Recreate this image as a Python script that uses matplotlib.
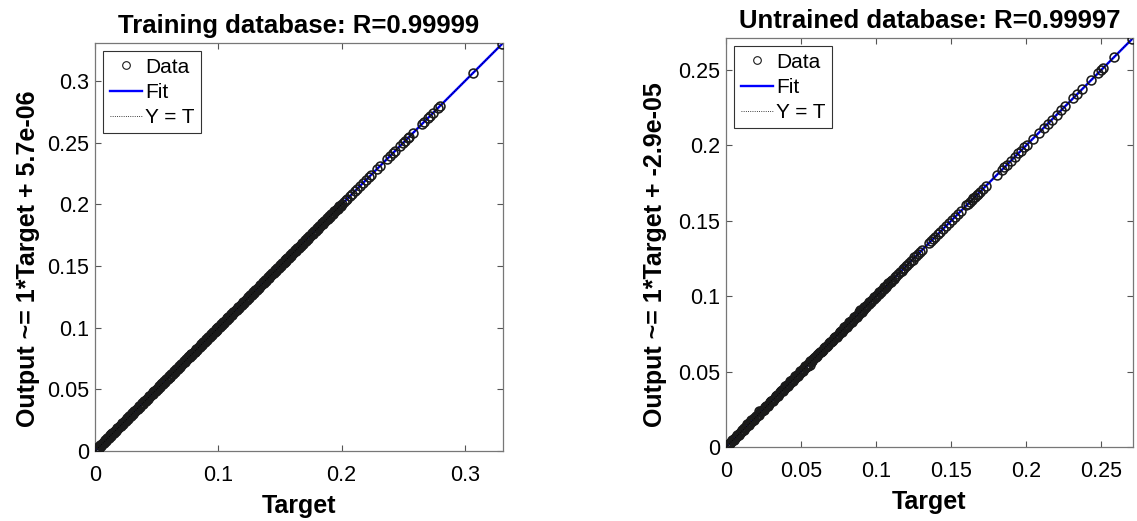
import matplotlib
matplotlib.use("Agg")
import matplotlib.pyplot as plt
from matplotlib.ticker import FormatStrFormatter
from matplotlib.lines import Line2D

plt.rcParams['font.family'] = ['Liberation Sans', 'DejaVu Sans']

# training set: network target vs output
train_target = [
    0.0002, 0.0009, 0.0017, 0.0029, 0.0036, 0.0047, 0.0055, 0.0068, 0.0074, 0.0088,
    0.0096, 0.0104, 0.0117, 0.0125, 0.0133, 0.0146, 0.0152, 0.0165, 0.0177, 0.0186,
    0.0194, 0.0203, 0.0215, 0.0222, 0.0236, 0.0243, 0.0254, 0.0261, 0.0273, 0.0285,
    0.0291, 0.0306, 0.0312, 0.0324, 0.0333, 0.0341, 0.0355, 0.0362, 0.0378, 0.0384,
    0.0393, 0.0407, 0.0414, 0.0422, 0.0438, 0.0445, 0.0453, 0.0466, 0.0474, 0.0489,
    0.0495, 0.0502, 0.0518, 0.0527, 0.0531, 0.0547, 0.0556, 0.0563, 0.0575, 0.0588,
    0.0594, 0.0605, 0.0611, 0.0626, 0.0637, 0.0642, 0.0654, 0.0668, 0.0673, 0.0685,
    0.0697, 0.0703, 0.0716, 0.0724, 0.0735, 0.0743, 0.0758, 0.0764, 0.0777, 0.0782,
    0.0796, 0.0807, 0.0813, 0.0825, 0.0836, 0.0847, 0.0852, 0.0866, 0.0875, 0.0883,
    0.0898, 0.0904, 0.0914, 0.0927, 0.0935, 0.0942, 0.0957, 0.0963, 0.0978, 0.0986,
    0.0993, 0.1005, 0.1016, 0.1023, 0.1037, 0.1045, 0.1051, 0.1068, 0.1074, 0.1082,
    0.1097, 0.1106, 0.1113, 0.1128, 0.1134, 0.1146, 0.1155, 0.1162, 0.1177, 0.1188,
    0.1194, 0.1203, 0.1217, 0.1225, 0.1232, 0.1248, 0.1253, 0.1266, 0.1274, 0.1287,
    0.1295, 0.1308, 0.1314, 0.1323, 0.1339, 0.1344, 0.1357, 0.1365, 0.1372, 0.1386,
    0.1398, 0.1404, 0.1415, 0.1427, 0.1436, 0.1443, 0.1458, 0.1467, 0.1473, 0.1484,
    0.1496, 0.1507, 0.1512, 0.1526, 0.1538, 0.1545, 0.1553, 0.1567, 0.1575, 0.1588,
    0.1593, 0.1605, 0.1618, 0.1624, 0.1633, 0.1647, 0.1656, 0.1664, 0.1676, 0.1685,
    0.1697, 0.1708, 0.1714, 0.1727, 0.1735, 0.1742, 0.1758, 0.1766, 0.1773, 0.1787,
    0.1794, 0.1806, 0.1817, 0.1823, 0.1838, 0.1845, 0.1854, 0.1862, 0.1877, 0.1883,
    0.1898, 0.1905, 0.1913, 0.1926, 0.1934, 0.1947, 0.1955, 0.1968, 0.1976, 0.1989,
    0.2003, 0.2017, 0.2036, 0.2048, 0.2069, 0.2085, 0.2112, 0.2124, 0.2150, 0.2173,
    0.2198, 0.2226, 0.2241, 0.2288, 0.2312, 0.2365, 0.2394, 0.2418, 0.2433, 0.2471,
    0.2497, 0.2512, 0.2536, 0.2544, 0.2581, 0.2654, 0.2667, 0.2702, 0.2718, 0.2745,
    0.2782, 0.2797, 0.3068, 0.3305,
]
train_output = [
    0.0002, 0.0010, 0.0017, 0.0028, 0.0036, 0.0048, 0.0055, 0.0067, 0.0074, 0.0088,
    0.0097, 0.0104, 0.0116, 0.0125, 0.0134, 0.0146, 0.0152, 0.0166, 0.0177, 0.0185,
    0.0194, 0.0204, 0.0215, 0.0222, 0.0235, 0.0243, 0.0255, 0.0261, 0.0273, 0.0284,
    0.0291, 0.0306, 0.0313, 0.0324, 0.0333, 0.0340, 0.0355, 0.0363, 0.0378, 0.0384,
    0.0393, 0.0406, 0.0414, 0.0423, 0.0438, 0.0445, 0.0452, 0.0466, 0.0475, 0.0489,
    0.0495, 0.0503, 0.0518, 0.0526, 0.0531, 0.0548, 0.0556, 0.0563, 0.0576, 0.0588,
    0.0594, 0.0604, 0.0611, 0.0626, 0.0638, 0.0642, 0.0654, 0.0667, 0.0673, 0.0685,
    0.0697, 0.0704, 0.0716, 0.0723, 0.0735, 0.0743, 0.0759, 0.0764, 0.0777, 0.0783,
    0.0796, 0.0806, 0.0813, 0.0825, 0.0837, 0.0847, 0.0852, 0.0865, 0.0875, 0.0884,
    0.0898, 0.0904, 0.0913, 0.0927, 0.0935, 0.0943, 0.0957, 0.0963, 0.0977, 0.0986,
    0.0994, 0.1005, 0.1016, 0.1024, 0.1037, 0.1044, 0.1051, 0.1068, 0.1075, 0.1082,
    0.1097, 0.1105, 0.1113, 0.1128, 0.1135, 0.1146, 0.1155, 0.1161, 0.1177, 0.1188,
    0.1195, 0.1203, 0.1216, 0.1225, 0.1232, 0.1249, 0.1253, 0.1266, 0.1273, 0.1287,
    0.1295, 0.1308, 0.1315, 0.1323, 0.1338, 0.1344, 0.1357, 0.1366, 0.1372, 0.1386,
    0.1397, 0.1404, 0.1415, 0.1428, 0.1436, 0.1443, 0.1457, 0.1467, 0.1474, 0.1484,
    0.1496, 0.1508, 0.1512, 0.1526, 0.1537, 0.1545, 0.1554, 0.1567, 0.1575, 0.1587,
    0.1593, 0.1606, 0.1618, 0.1623, 0.1633, 0.1647, 0.1657, 0.1664, 0.1676, 0.1685,
    0.1696, 0.1708, 0.1715, 0.1727, 0.1735, 0.1741, 0.1758, 0.1767, 0.1773, 0.1787,
    0.1795, 0.1806, 0.1816, 0.1823, 0.1838, 0.1846, 0.1854, 0.1862, 0.1876, 0.1883,
    0.1898, 0.1906, 0.1913, 0.1926, 0.1933, 0.1947, 0.1955, 0.1969, 0.1976, 0.1989,
    0.2004, 0.2017, 0.2035, 0.2048, 0.2070, 0.2085, 0.2111, 0.2124, 0.2151, 0.2173,
    0.2197, 0.2226, 0.2242, 0.2288, 0.2311, 0.2366, 0.2394, 0.2417, 0.2433, 0.2472,
    0.2497, 0.2511, 0.2537, 0.2544, 0.2580, 0.2655, 0.2667, 0.2701, 0.2718, 0.2746,
    0.2782, 0.2796, 0.3069, 0.3305,
]
# second batch of training samples (low range, slightly scattered)
train_target_b = [
    0.0005, 0.0013, 0.0023, 0.0032, 0.0042, 0.0051, 0.0061, 0.0071, 0.0081, 0.0092,
    0.0100, 0.0110, 0.0121, 0.0129, 0.0139, 0.0150, 0.0158, 0.0169, 0.0181, 0.0190,
    0.0199, 0.0208, 0.0219, 0.0228, 0.0240, 0.0249, 0.0258, 0.0267, 0.0279, 0.0289,
    0.0298, 0.0309, 0.0318, 0.0328, 0.0337, 0.0348, 0.0359, 0.0367, 0.0381, 0.0389,
    0.0398, 0.0410, 0.0418, 0.0427, 0.0441, 0.0449, 0.0459, 0.0470, 0.0479, 0.0492,
    0.0499, 0.0510, 0.0521, 0.0529, 0.0539, 0.0551, 0.0560, 0.0569, 0.0579, 0.0591,
    0.0600, 0.0608, 0.0618, 0.0631, 0.0640, 0.0648, 0.0659, 0.0671, 0.0679, 0.0690,
    0.0700, 0.0709, 0.0720, 0.0729, 0.0739, 0.0750, 0.0761, 0.0770, 0.0780, 0.0789,
    0.0800, 0.0810, 0.0819, 0.0829, 0.0840, 0.0850, 0.0859, 0.0869, 0.0879, 0.0890,
    0.0901, 0.0909, 0.0920, 0.0930, 0.0939, 0.0949, 0.0960, 0.0970, 0.0981, 0.0990,
    0.0998, 0.1010, 0.1020, 0.1030, 0.1041, 0.1048, 0.1059, 0.1071, 0.1078, 0.1089,
    0.1101, 0.1110, 0.1120, 0.1131, 0.1140, 0.1150, 0.1159, 0.1169, 0.1181, 0.1191,
    0.1199, 0.1210, 0.1221, 0.1229, 0.1239, 0.1251, 0.1259, 0.1270, 0.1280, 0.1290,
    0.1300, 0.1311, 0.1319, 0.1330, 0.1341, 0.1350, 0.1361, 0.1369, 0.1379, 0.1390,
    0.1401, 0.1409, 0.1420, 0.1431, 0.1439, 0.1449, 0.1461, 0.1470, 0.1479, 0.1490,
    0.1500, 0.1510, 0.1519, 0.1530, 0.1541, 0.1550, 0.1559, 0.1570, 0.1579, 0.1591,
    0.1599, 0.1610, 0.1621, 0.1629, 0.1639, 0.1651, 0.1660, 0.1669, 0.1680, 0.1690,
    0.1701, 0.1711, 0.1719, 0.1730, 0.1739, 0.1748, 0.1761, 0.1770, 0.1779, 0.1790,
    0.1799, 0.1810, 0.1820, 0.1829, 0.1841, 0.1849, 0.1858, 0.1869, 0.1880, 0.1889,
    0.1901, 0.1909, 0.1918, 0.1930, 0.1939, 0.1950, 0.1960, 0.1971, 0.1980, 0.1993,
]
train_output_b = [
    0.0011, 0.0007, 0.0030, 0.0025, 0.0049, 0.0044, 0.0068, 0.0064, 0.0088, 0.0085,
    0.0107, 0.0103, 0.0128, 0.0122, 0.0146, 0.0143, 0.0165, 0.0162, 0.0188, 0.0183,
    0.0206, 0.0201, 0.0226, 0.0221, 0.0247, 0.0242, 0.0265, 0.0260, 0.0286, 0.0282,
    0.0305, 0.0302, 0.0325, 0.0321, 0.0344, 0.0341, 0.0366, 0.0360, 0.0388, 0.0382,
    0.0405, 0.0403, 0.0425, 0.0420, 0.0448, 0.0442, 0.0466, 0.0463, 0.0486, 0.0485,
    0.0506, 0.0503, 0.0528, 0.0522, 0.0546, 0.0544, 0.0567, 0.0562, 0.0586, 0.0584,
    0.0607, 0.0601, 0.0625, 0.0624, 0.0647, 0.0641, 0.0666, 0.0664, 0.0686, 0.0683,
    0.0707, 0.0702, 0.0727, 0.0722, 0.0746, 0.0743, 0.0768, 0.0763, 0.0787, 0.0782,
    0.0807, 0.0803, 0.0826, 0.0822, 0.0847, 0.0843, 0.0866, 0.0862, 0.0886, 0.0883,
    0.0908, 0.0902, 0.0927, 0.0923, 0.0946, 0.0942, 0.0967, 0.0963, 0.0988, 0.0983,
    0.1005, 0.1003, 0.1027, 0.1023, 0.1048, 0.1041, 0.1066, 0.1064, 0.1085, 0.1082,
    0.1108, 0.1103, 0.1127, 0.1124, 0.1147, 0.1143, 0.1166, 0.1162, 0.1188, 0.1184,
    0.1206, 0.1203, 0.1228, 0.1222, 0.1246, 0.1244, 0.1266, 0.1263, 0.1287, 0.1283,
    0.1307, 0.1304, 0.1326, 0.1323, 0.1348, 0.1343, 0.1368, 0.1362, 0.1386, 0.1383,
    0.1408, 0.1402, 0.1427, 0.1424, 0.1446, 0.1442, 0.1468, 0.1463, 0.1486, 0.1483,
    0.1507, 0.1503, 0.1526, 0.1523, 0.1548, 0.1543, 0.1566, 0.1563, 0.1586, 0.1584,
    0.1606, 0.1603, 0.1628, 0.1622, 0.1646, 0.1644, 0.1667, 0.1662, 0.1687, 0.1683,
    0.1708, 0.1704, 0.1726, 0.1723, 0.1746, 0.1741, 0.1768, 0.1763, 0.1786, 0.1783,
    0.1806, 0.1803, 0.1827, 0.1822, 0.1848, 0.1842, 0.1865, 0.1862, 0.1887, 0.1882,
    0.1908, 0.1902, 0.1925, 0.1923, 0.1946, 0.1943, 0.1967, 0.1964, 0.1987, 0.1986,
]
train_r = 0.99999
train_slope = 1
train_intercept = 5.7e-06

# untrained set
test_target = [
    0.0003, 0.0011, 0.0018, 0.0027, 0.0035, 0.0044, 0.0052, 0.0058, 0.0067, 0.0075,
    0.0084, 0.0091, 0.0099, 0.0108, 0.0116, 0.0123, 0.0133, 0.0141, 0.0147, 0.0156,
    0.0164, 0.0173, 0.0181, 0.0188, 0.0197, 0.0205, 0.0213, 0.0222, 0.0229, 0.0238,
    0.0245, 0.0254, 0.0262, 0.0271, 0.0278, 0.0286, 0.0295, 0.0303, 0.0311, 0.0318,
    0.0327, 0.0336, 0.0343, 0.0352, 0.0361, 0.0368, 0.0376, 0.0385, 0.0392, 0.0401,
    0.0409, 0.0418, 0.0425, 0.0433, 0.0442, 0.0451, 0.0458, 0.0466, 0.0475, 0.0483,
    0.0491, 0.0499, 0.0508, 0.0516, 0.0523, 0.0532, 0.0541, 0.0548, 0.0557, 0.0565,
    0.0573, 0.0582, 0.0589, 0.0597, 0.0606, 0.0614, 0.0622, 0.0631, 0.0638, 0.0646,
    0.0655, 0.0663, 0.0671, 0.0679, 0.0688, 0.0696, 0.0703, 0.0712, 0.0721, 0.0728,
    0.0737, 0.0745, 0.0753, 0.0761, 0.0769, 0.0778, 0.0786, 0.0794, 0.0802, 0.0811,
    0.0819, 0.0827, 0.0835, 0.0844, 0.0851, 0.0859, 0.0868, 0.0876, 0.0884, 0.0893,
    0.0901, 0.0909, 0.0917, 0.0925, 0.0934, 0.0942, 0.0950, 0.0958, 0.0967, 0.0975,
    0.0983, 0.0991, 0.1000, 0.1008, 0.1016, 0.1024, 0.1033, 0.1041, 0.1049, 0.1057,
    0.1066, 0.1074, 0.1082, 0.1091, 0.1098, 0.1107, 0.1116, 0.1127, 0.1135, 0.1148,
    0.1156, 0.1169, 0.1178, 0.1186, 0.1199, 0.1207, 0.1221, 0.1233, 0.1242, 0.1255,
    0.1268, 0.1279, 0.1293, 0.1306, 0.1352, 0.1367, 0.1381, 0.1394, 0.1412, 0.1428,
    0.1445, 0.1463, 0.1487, 0.1502, 0.1524, 0.1543, 0.1566, 0.1601, 0.1613, 0.1624,
    0.1638, 0.1647, 0.1659, 0.1668, 0.1679, 0.1692, 0.1711, 0.1728, 0.1805, 0.1836,
    0.1854, 0.1872, 0.1896, 0.1921, 0.1947, 0.1963, 0.1986, 0.2003, 0.2041, 0.2083,
    0.2117, 0.2142, 0.2168, 0.2204, 0.2231, 0.2259, 0.2312, 0.2335, 0.2372, 0.2431,
    0.2478, 0.2495, 0.2512, 0.2584, 0.2705,
]
test_output = [
    0.0003, 0.0010, 0.0019, 0.0027, 0.0034, 0.0045, 0.0052, 0.0059, 0.0066, 0.0075,
    0.0085, 0.0090, 0.0099, 0.0109, 0.0116, 0.0124, 0.0132, 0.0152, 0.0147, 0.0157,
    0.0164, 0.0172, 0.0181, 0.0189, 0.0197, 0.0204, 0.0213, 0.0236, 0.0229, 0.0239,
    0.0245, 0.0253, 0.0262, 0.0272, 0.0278, 0.0285, 0.0296, 0.0303, 0.0310, 0.0318,
    0.0328, 0.0336, 0.0342, 0.0352, 0.0362, 0.0368, 0.0375, 0.0385, 0.0393, 0.0401,
    0.0408, 0.0418, 0.0426, 0.0433, 0.0441, 0.0451, 0.0459, 0.0466, 0.0474, 0.0483,
    0.0492, 0.0499, 0.0507, 0.0516, 0.0524, 0.0532, 0.0540, 0.0548, 0.0542, 0.0565,
    0.0574, 0.0582, 0.0588, 0.0597, 0.0607, 0.0614, 0.0621, 0.0631, 0.0639, 0.0646,
    0.0654, 0.0663, 0.0672, 0.0679, 0.0687, 0.0696, 0.0704, 0.0712, 0.0720, 0.0728,
    0.0738, 0.0745, 0.0752, 0.0761, 0.0770, 0.0778, 0.0785, 0.0794, 0.0803, 0.0811,
    0.0818, 0.0827, 0.0836, 0.0844, 0.0850, 0.0859, 0.0869, 0.0876, 0.0883, 0.0908,
    0.0902, 0.0909, 0.0916, 0.0925, 0.0935, 0.0942, 0.0949, 0.0958, 0.0968, 0.0975,
    0.0982, 0.0991, 0.1001, 0.1008, 0.1015, 0.1024, 0.1034, 0.1041, 0.1048, 0.1057,
    0.1067, 0.1074, 0.1081, 0.1091, 0.1099, 0.1107, 0.1115, 0.1128, 0.1135, 0.1147,
    0.1157, 0.1169, 0.1177, 0.1187, 0.1199, 0.1206, 0.1222, 0.1233, 0.1241, 0.1256,
    0.1268, 0.1278, 0.1294, 0.1306, 0.1351, 0.1368, 0.1381, 0.1393, 0.1413, 0.1428,
    0.1444, 0.1464, 0.1487, 0.1501, 0.1525, 0.1543, 0.1565, 0.1602, 0.1613, 0.1623,
    0.1639, 0.1647, 0.1658, 0.1669, 0.1679, 0.1691, 0.1712, 0.1728, 0.1804, 0.1837,
    0.1854, 0.1871, 0.1897, 0.1921, 0.1946, 0.1964, 0.1986, 0.2002, 0.2042, 0.2083,
    0.2116, 0.2143, 0.2168, 0.2203, 0.2232, 0.2259, 0.2311, 0.2336, 0.2372, 0.2430,
    0.2479, 0.2495, 0.2511, 0.2585, 0.2705,
]
test_target_b = [
    0.0007, 0.0022, 0.0040, 0.0056, 0.0071, 0.0088, 0.0104, 0.0120, 0.0137, 0.0152,
    0.0169, 0.0185, 0.0201, 0.0217, 0.0234, 0.0250, 0.0266, 0.0282, 0.0299, 0.0315,
    0.0331, 0.0347, 0.0364, 0.0380, 0.0396, 0.0413, 0.0429, 0.0445, 0.0462, 0.0478,
    0.0494, 0.0511, 0.0527, 0.0543, 0.0560, 0.0576, 0.0592, 0.0609, 0.0625, 0.0641,
    0.0658, 0.0674, 0.0690, 0.0707, 0.0723, 0.0739, 0.0756, 0.0772, 0.0788, 0.0805,
    0.0821, 0.0837, 0.0854, 0.0870, 0.0886, 0.0903, 0.0919, 0.0935, 0.0952, 0.0968,
    0.0984, 0.1001, 0.1017, 0.1033, 0.1050, 0.1066, 0.1082, 0.1099,
]
test_output_b = [
    0.0013, 0.0016, 0.0047, 0.0049, 0.0078, 0.0081, 0.0111, 0.0113, 0.0144, 0.0145,
    0.0176, 0.0178, 0.0208, 0.0210, 0.0241, 0.0243, 0.0273, 0.0275, 0.0306, 0.0308,
    0.0338, 0.0340, 0.0371, 0.0373, 0.0403, 0.0406, 0.0436, 0.0438, 0.0469, 0.0471,
    0.0501, 0.0504, 0.0534, 0.0536, 0.0567, 0.0569, 0.0599, 0.0602, 0.0632, 0.0634,
    0.0665, 0.0667, 0.0697, 0.0700, 0.0730, 0.0732, 0.0763, 0.0765, 0.0795, 0.0798,
    0.0828, 0.0830, 0.0861, 0.0863, 0.0893, 0.0896, 0.0926, 0.0928, 0.0959, 0.0961,
    0.0991, 0.0994, 0.1024, 0.1026, 0.1057, 0.1059, 0.1089, 0.1092,
]
test_r = 0.99997
test_slope = 1
test_intercept = -2.9e-05

panels = [
    dict(target=train_target + train_target_b, output=train_output + train_output_b,
         r=train_r, slope=train_slope, icpt=train_intercept,
         name='Training database', lim=0.331, label_x=-0.135,
         ticks=[0, 0.1, 0.2, 0.3], yticks=[0, 0.05, 0.1, 0.15, 0.2, 0.25, 0.3],
         rect=[0.0836, 0.1344, 0.3588, 0.7831]),
    dict(target=test_target + test_target_b, output=test_output + test_output_b,
         r=test_r, slope=test_slope, icpt=test_intercept,
         name='Untrained database', lim=0.271, label_x=-0.146,
         ticks=[0, 0.05, 0.1, 0.15, 0.2, 0.25], yticks=[0, 0.05, 0.1, 0.15, 0.2, 0.25],
         rect=[0.6385, 0.1420, 0.3580, 0.7850]),
]

MS = 6.4
MEW = 1.15
MEC = '#1a1a1a'

fig = plt.figure(figsize=(11.37, 5.21), dpi=100)

for p in panels:
    ax = fig.add_axes(p['rect'])
    lim = p['lim']
    fit_x = [0, lim]
    fit_y = [p['slope'] * v + p['icpt'] for v in fit_x]

    ax.plot(fit_x, fit_y, color='#0000ff', lw=1.7, zorder=2)
    ax.plot(p['target'], p['output'], 'o', ms=MS, mfc='none', mec=MEC,
            mew=MEW, zorder=3)
    ax.plot(fit_x, fit_x, ':', color='k', lw=0.6, zorder=4)

    ax.set_xlim(0, lim)
    ax.set_ylim(0, lim)
    ax.set_xticks(p['ticks'])
    ax.set_yticks(p['yticks'])
    ax.xaxis.set_major_formatter(FormatStrFormatter('%g'))
    ax.yaxis.set_major_formatter(FormatStrFormatter('%g'))
    ax.tick_params(direction='in', top=True, right=True, length=4, width=0.8,
                   color='#555555', labelsize=15.5)
    ax.tick_params(axis='x', pad=10)
    ax.tick_params(axis='y', pad=4)
    for s in ax.spines.values():
        s.set_color('#777777')
        s.set_linewidth(0.9)

    ax.set_title('%s: R=%.5f' % (p['name'], p['r']), fontsize=18.5,
                 fontweight='bold', pad=7)
    ax.set_xlabel('Target', fontsize=18, fontweight='bold', labelpad=6)
    ax.set_ylabel('Output ~= %g*Target + %.2g' % (p['slope'], p['icpt']),
                  fontsize=18, fontweight='bold')
    ax.yaxis.set_label_coords(p['label_x'], 0.47)

    handles = [
        Line2D([], [], ls='none', marker='o', ms=5.5, mfc='none', mec=MEC, mew=0.8),
        Line2D([], [], color='#0000ff', lw=1.7),
        Line2D([], [], color='k', ls=':', lw=0.6),
    ]
    leg = ax.legend(handles, ['Data', 'Fit', 'Y = T'], loc='upper left',
                    fontsize=15, frameon=True, fancybox=False, handlelength=1.55,
                    handletextpad=0.15, borderpad=0.3, labelspacing=0.3,
                    borderaxespad=0.4)
    leg.get_frame().set_edgecolor('k')
    leg.get_frame().set_linewidth(0.8)

fig.savefig('out.png', dpi=100)
